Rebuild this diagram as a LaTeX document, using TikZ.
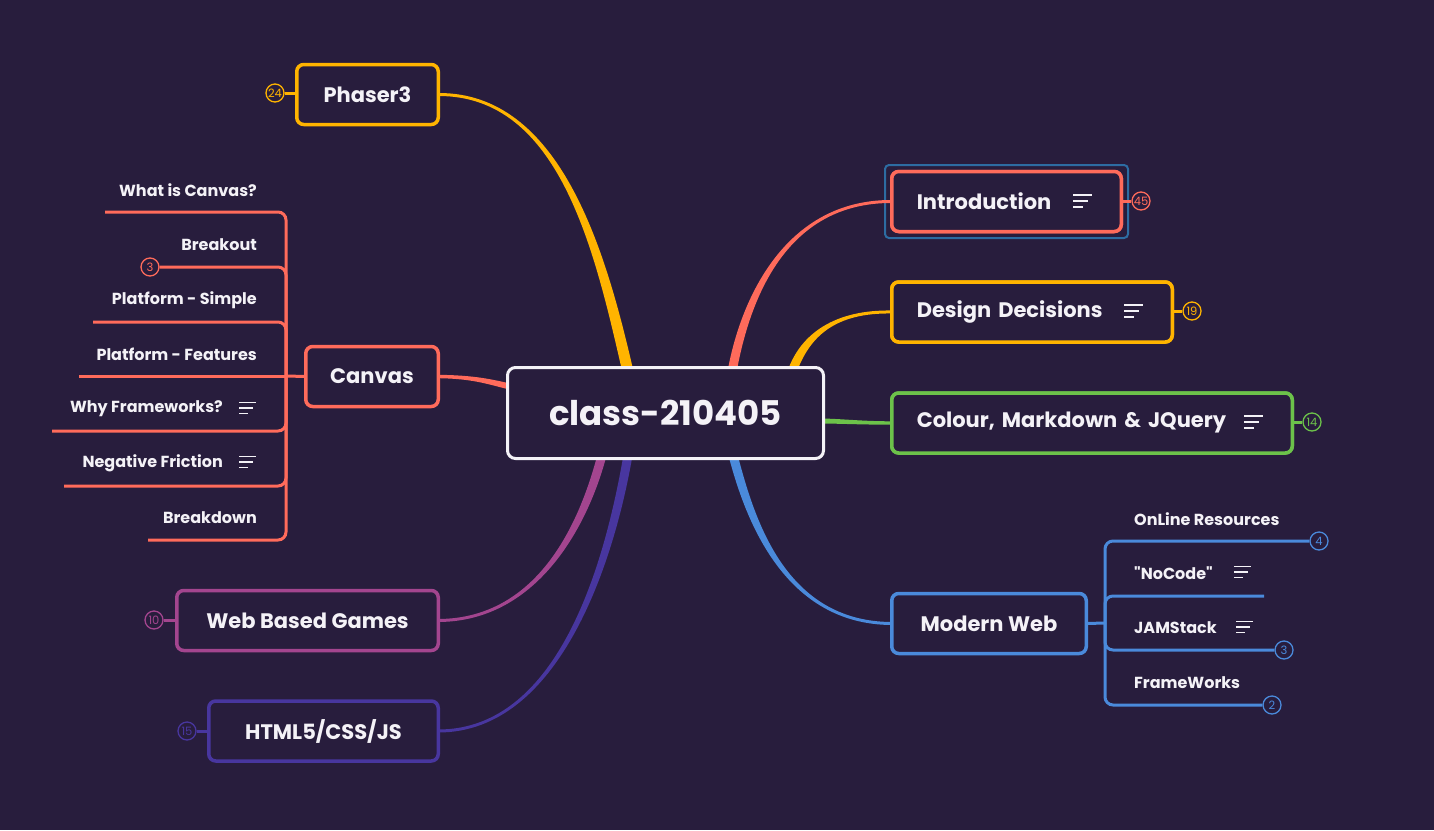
\documentclass[tikz,border=0pt]{standalone}
\usepackage{fontspec}
\setmainfont{Poppins}[Ligatures=TeXOff]
\usetikzlibrary{calc}

\definecolor{bg}{HTML}{281D3D}
\definecolor{cyel}{HTML}{FFB400}
\definecolor{ccor}{HTML}{FF6B5B}
\definecolor{cgrn}{HTML}{6CC24A}
\definecolor{cblu}{HTML}{4A8ADB}
\definecolor{cmag}{HTML}{A3458F}
\definecolor{cind}{HTML}{48369F}
\definecolor{csel}{HTML}{2D6CA2}
\definecolor{ink}{HTML}{F4F2F7}

% tapered branch: colour, thin end, control 1, control 2, wide end, half widths
\newcommand\taper[7]{%
  \path ($(#2)!#6!90:(#3)$) coordinate (tBL) ($(#2)!#6!-90:(#3)$) coordinate (tBR)
        ($(#5)!#7!-90:(#4)$) coordinate (tAL) ($(#5)!#7!90:(#4)$) coordinate (tAR);
  \fill[#1] (tBL) .. controls ($(#3)+(tBL)-(#2)$) and ($(#4)+(tAL)-(#5)$) .. (tAL)
    -- (tAR) .. controls ($(#4)+(tAR)-(#5)$) and ($(#3)+(tBR)-(#2)$) .. (tBR) -- cycle;
}

\tikzset{
  topic/.style={draw=#1, line width=3.5pt, rounded corners=7pt, fill=bg, text=ink,
    font=\bfseries\fontsize{21}{25}\selectfont, minimum height=60pt, inner sep=0pt, outer sep=0pt},
  badge/.style={circle, draw=#1, line width=1.3pt, fill=bg, text=#1, minimum size=18pt,
    inner sep=0pt, font=\fontsize{11.5}{12}\selectfont},
  blink/.style={draw=#1, line width=3pt},
  kid/.style={text=ink, font=\bfseries\fontsize{16}{19}\selectfont, inner sep=0pt},
  kidline/.style={draw=#1, line width=3pt, rounded corners=8pt},
  note/.pic={\draw[ink, line width=2pt] (0,-6) -- (19,-6) (0,0) -- (15,0) (0,6) -- (10,6);},
  notes/.pic={\draw[ink, line width=1.8pt] (0,-5.5) -- (17,-5.5) (0,0) -- (14,0) (0,5.5) -- (9,5.5);},
  introbox/.style={topic=ccor, minimum width=229.5pt, text width=179.5pt, align=left, inner xsep=25pt},
  designbox/.style={topic=cyel, minimum width=280.5pt, text width=230.5pt, align=left, inner xsep=25pt},
  colourbox/.style={topic=cgrn, minimum width=400.5pt, text width=350.5pt, align=left, inner xsep=25pt},
}

\begin{document}
\begin{tikzpicture}[x=1pt,y=-1pt]
\fill[bg] (0,0) rectangle (1434,830);
\useasboundingbox (0,0) rectangle (1434,830);

% ---- main topics ----
\node[topic=cyel, minimum width=141.5pt] (phaser) at (367.5,94.5) {Phaser3};
\node[topic=ccor, minimum width=132.5pt] (canvas) at (372,376.5) {Canvas};
\node[topic=cmag, minimum width=261.5pt] (wbg) at (307.5,620.5) {Web Based Games};
\node[topic=cind, minimum width=229.5pt] (html) at (323.5,731) {HTML5/CSS/JS};
\node[introbox] (intro) at (1006.5,201.5) {Introduction};
\node[designbox] (design) at (1032,312) {Design Decisions};
\node[colourbox] (colour) at (1092,423) {Colour, Markdown \& JQuery};
\node[topic=cblu, minimum width=194.5pt] (modern) at (989,623.5) {Modern Web};

% selection frame around the introduction topic
\draw[csel, line width=2pt, rounded corners=4pt] (885,165) rectangle (1128,238);

% ---- points where branches enter the central topic ----
\coordinate (rP) at (628,372);
\coordinate (rC) at (512,387);
\coordinate (rW) at (602,455);
\coordinate (rH) at (628,455);
\coordinate (rI) at (732,372);
\coordinate (rD) at (792,372);
\coordinate (rG) at (818,421);
\coordinate (rM) at (733,455);

% ---- tapered branches ----
\taper{cyel}{phaser.east}{560,94}{600,250}{rP}{1.5pt}{5.5pt}
\taper{ccor}{canvas.east}{475,377}{490,382}{rC}{1.7pt}{3pt}
\taper{cmag}{wbg.east}{540,620}{585,520}{rW}{1.5pt}{4.5pt}
\taper{cind}{html.east}{560,731}{610,560}{rH}{1.5pt}{4.5pt}
\taper{ccor}{intro.west}{785,201}{745,300}{rI}{1.5pt}{4.5pt}
\taper{cyel}{design.west}{835,311}{805,335}{rD}{1.5pt}{4.5pt}
\taper{cgrn}{colour.west}{860,423}{840,421}{rG}{1.7pt}{2.5pt}
\taper{cblu}{modern.west}{785,623}{750,520}{rM}{1.5pt}{4.5pt}

% ---- central topic ----
\node[draw=ink, line width=3pt, rounded corners=8pt, fill=bg, text=ink,
      minimum width=316pt, minimum height=91pt, inner sep=0pt,
      font=\bfseries\fontsize{34}{40}\selectfont] (root) at (665.5,413) {class-210405};

% topic frames drawn again over the branch ends
\node[introbox] at (intro) {Introduction};
\node[designbox] at (design) {Design Decisions};
\node[colourbox] at (colour) {Colour, Markdown \& JQuery};

% note icons on topics
\pic at (1073,201) {note};
\pic at (1124,311) {note};
\pic at (1244,422) {note};

% ---- topic badges ----
\node[badge=cyel] (b24) at (275,93) {24};
\draw[blink=cyel] (b24.east) -- (phaser.west |- b24.east);
\node[badge=ccor] (b45) at (1141,201) {45};
\draw[blink=ccor] (intro.east |- b45.west) -- (b45.west);
\node[badge=cyel] (b19) at (1192,311) {19};
\draw[blink=cyel] (design.east |- b19.west) -- (b19.west);
\node[badge=cgrn] (b14) at (1312,422) {14};
\draw[blink=cgrn] (colour.east |- b14.west) -- (b14.west);
\node[badge=cmag] (b10) at (154,620) {10};
\draw[blink=cmag] (b10.east) -- (wbg.west |- b10.east);
\node[badge=cind] (b15) at (187,731) {15};
\draw[blink=cind] (b15.east) -- (html.west |- b15.east);

% ---- canvas subtopics ----
\coordinate (cj) at (286,376);
\draw[kidline=ccor] (canvas.west) -- (cj);
\coordinate (cl1) at (105,212);
\coordinate (cl3) at (93,322);
\coordinate (cl4) at (79,376);
\coordinate (cl5) at (52,431);
\coordinate (cl6) at (64,486);
\coordinate (cl7) at (148,540);
\node[badge=ccor] (b3c) at (150,267) {3};
\draw[kidline=ccor] (cj) |- (cl1);
\draw[kidline=ccor] (cj) |- (b3c.east);
\draw[kidline=ccor] (cj) |- (cl3);
\draw[kidline=ccor] (cj) -- (cl4);
\draw[kidline=ccor] (cj) |- (cl5);
\draw[kidline=ccor] (cj) |- (cl6);
\draw[kidline=ccor] (cj) |- (cl7);

\node[kid, anchor=east] (k1) at (257,190) {What is Canvas?};
\node[kid, anchor=east] (k2) at (257,245) {Breakout};
\node[kid, anchor=east] (k3) at (257,300) {Platform - Simple};
\node[kid, anchor=east] (k4) at (257,354) {Platform - Features};
\node[kid, anchor=east] (k5) at (223,409) {Why Frameworks?};
\node[kid, anchor=east] (k6) at (223,463) {Negative Friction};
\node[kid, anchor=east] (k7) at (257,518) {Breakdown};
\pic at (239,408) {notes};
\pic at (239,462) {notes};

% ---- modern web subtopics ----
\coordinate (mj) at (1105,623);
\draw[kidline=cblu] (modern.east) -- (mj);
\node[badge=cblu] (b4m) at (1319,541) {4};
\coordinate (ml2) at (1264,596);
\node[badge=cblu] (b3m) at (1284,650) {3};
\node[badge=cblu] (b2m) at (1272,705) {2};
\draw[kidline=cblu] (mj) |- (b4m.west);
\draw[kidline=cblu] (mj) |- (ml2);
\draw[kidline=cblu] (mj) |- (b3m.west);
\draw[kidline=cblu] (mj) |- (b2m.west);

\node[kid, anchor=west] (m1) at (1134,519) {OnLine Resources};
\node[kid, anchor=west] (m2) at (1134,573) {"NoCode"};
\node[kid, anchor=west] (m3) at (1134,628) {JAMStack};
\node[kid, anchor=west] (m4) at (1134,683) {FrameWorks};
\pic at (1234,572) {notes};
\pic at (1236,627) {notes};
\end{tikzpicture}
\end{document}
